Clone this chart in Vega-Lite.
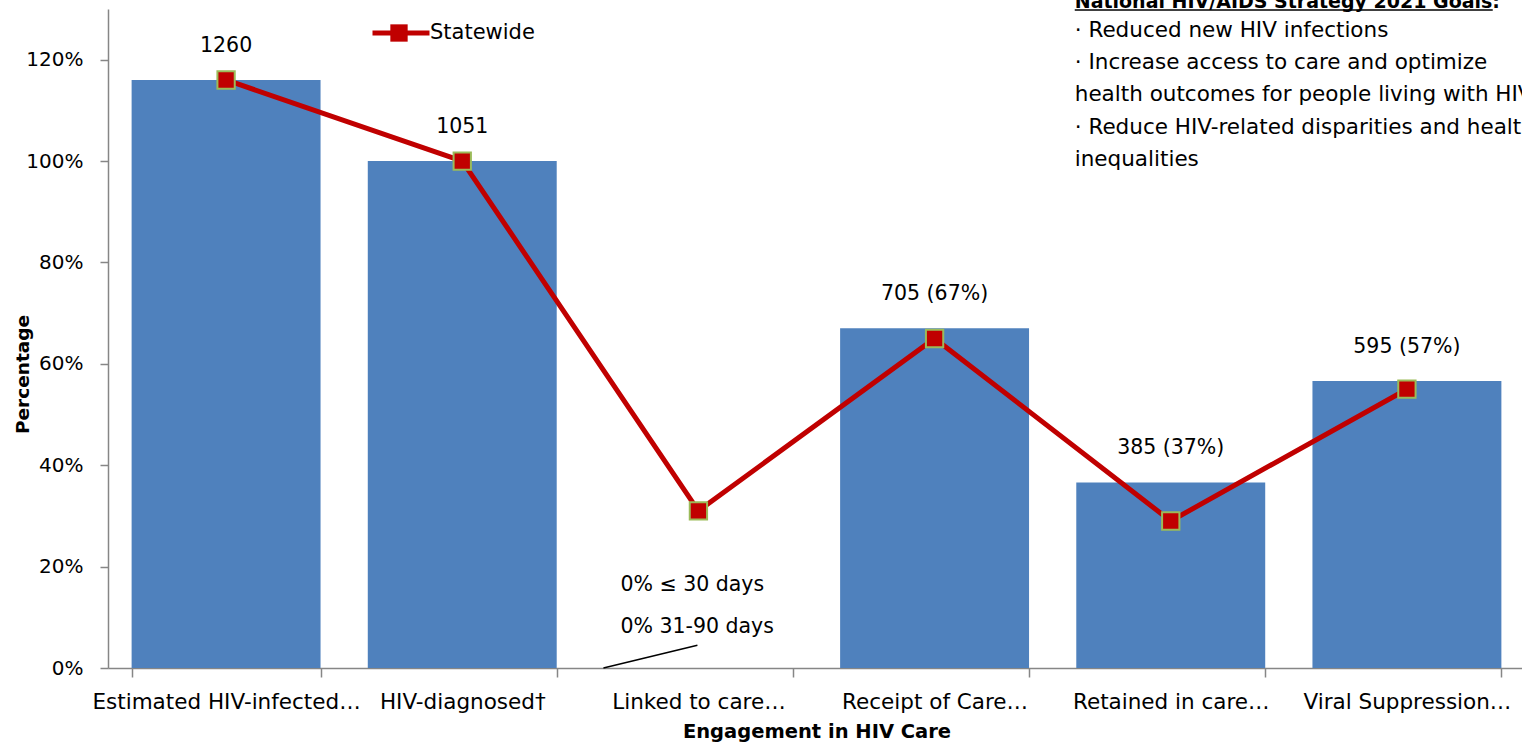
{
  "$schema": "https://vega.github.io/schema/vega-lite/v6.json",
  "width": 1417,
  "height": 659,
  "autosize": {"type": "none"},
  "padding": {"left": 108, "top": 9, "right": 0, "bottom": 75},
  "background": "white",
  "config": {
    "view": {"stroke": null},
    "font": "DejaVu Sans",
    "axis": {"labelFont": "DejaVu Sans", "titleFont": "DejaVu Sans", "labelColor": "black", "titleColor": "black", "domainColor": "#868686", "tickColor": "#868686", "domainWidth": 1.5, "tickWidth": 1.5},
    "legend": {"labelFont": "DejaVu Sans"}
  },
  "data": {
    "values": [
      {"stage": "Estimated HIV-infected…", "pct": 116, "statewide": 116, "label": "1260", "series": "Statewide"},
      {"stage": "HIV-diagnosed†", "pct": 100, "statewide": 100, "label": "1051", "series": "Statewide"},
      {"stage": "Linked to care…", "pct": 0, "statewide": 31, "label": "", "series": "Statewide"},
      {"stage": "Receipt of Care…", "pct": 67, "statewide": 65, "label": "705 (67%)", "series": "Statewide"},
      {"stage": "Retained in care…", "pct": 36.6, "statewide": 29, "label": "385 (37%)", "series": "Statewide"},
      {"stage": "Viral Suppression…", "pct": 56.6, "statewide": 55, "label": "595 (57%)", "series": "Statewide"}
    ]
  },
  "encoding": {
    "x": {
      "field": "stage", "type": "nominal", "sort": null,
      "scale": {"paddingInner": 0.2, "paddingOuter": 0.1},
      "axis": {"title": "Engagement in HIV Care", "titleFontSize": 19.5, "titleFontWeight": "bold", "titleBaseline": "middle", "titleY": 63, "labelAngle": 0, "labelFontSize": 21.5, "labelLimit": 0, "labelBaseline": "middle", "labelPadding": 25, "tickSize": 9, "tickBand": "extent", "labelOverlap": false}
    }
  },
  "layer": [
    {
      "mark": {"type": "bar", "color": "#4F81BD"},
      "encoding": {
        "y": {"field": "pct", "type": "quantitative", "scale": {"domain": [0, 130], "nice": false},
          "axis": {"values": [0, 20, 40, 60, 80, 100, 120], "labelExpr": "datum.value + '%'", "grid": false, "tickSize": 8, "labelPadding": 17, "labelFontSize": 20, "title": "Percentage", "titleFontSize": 18.5, "titleFontWeight": "bold", "titleX": -86, "titleY": 365, "titleAlign": "center", "titleBaseline": "middle"}}
      }
    },
    {
      "mark": {"type": "text", "fontSize": 20.5, "color": "black", "baseline": "middle", "dy": -34},
      "encoding": {
        "y": {"field": "pct", "type": "quantitative"},
        "text": {"field": "label"}
      }
    },
    {
      "mark": {"type": "line", "strokeWidth": 5},
      "encoding": {
        "y": {"field": "statewide", "type": "quantitative"},
        "stroke": {"field": "series", "type": "nominal", "scale": {"range": ["#C00000"]},
          "legend": {"title": null, "orient": "none", "legendX": 262, "legendY": -7, "padding": 0, "symbolType": "stroke", "symbolSize": 3249, "symbolStrokeWidth": 5, "labelFontSize": 21, "labelColor": "black", "labelOffset": -2}}
      }
    },
    {
      "mark": {"type": "point", "shape": "square", "filled": true, "color": "#C00000", "stroke": "#9BBB59", "strokeWidth": 2, "size": 300, "opacity": 1},
      "encoding": {
        "y": {"field": "statewide", "type": "quantitative"},
        "shape": {"datum": "Statewide", "scale": {"range": ["square"]},
          "legend": {"title": null, "orient": "none", "legendX": 281, "legendY": 14, "padding": 0, "symbolSize": 300, "symbolFillColor": "#C00000", "symbolStrokeColor": "#9BBB59", "symbolStrokeWidth": 2, "symbolOpacity": 1, "labelExpr": "''", "labelFontSize": 1}}
      }
    },
    {
      "data": {"values": [{}]},
      "mark": {"type": "text", "fontSize": 20.5, "color": "black", "align": "left", "baseline": "middle", "dx": -78, "text": "0% ≤ 30 days"},
      "encoding": {"x": {"datum": "Linked to care…"}, "y": {"datum": 16.4}}
    },
    {
      "data": {"values": [{}]},
      "mark": {"type": "text", "fontSize": 20.5, "color": "black", "align": "left", "baseline": "middle", "dx": -78, "text": "0% 31-90 days"},
      "encoding": {"x": {"datum": "Linked to care…"}, "y": {"datum": 8.1}}
    },
    {
      "data": {"values": [{}]},
      "mark": {"type": "rule", "color": "black", "strokeWidth": 1.5, "xOffset": -95, "x2Offset": -1},
      "encoding": {"x": {"datum": "Linked to care…"}, "x2": {"datum": "Linked to care…"}, "y": {"datum": 0}, "y2": {"datum": 4.5}}
    },
    {
      "data": {"values": [{}]},
      "mark": {"type": "text", "fontSize": 19, "fontWeight": "bold", "color": "black", "align": "left", "baseline": "alphabetic", "dx": -96, "dy": -1, "text": "National HIV/AIDS Strategy 2021 Goals:"},
      "encoding": {"x": {"datum": "Retained in care…"}, "y": {"datum": 130}}
    },
    {
      "data": {"values": [{}]},
      "mark": {"type": "rule", "color": "black", "strokeWidth": 1.5, "xOffset": -96, "x2Offset": 322},
      "encoding": {"x": {"datum": "Retained in care…"}, "x2": {"datum": "Retained in care…"}, "y": {"datum": 129.8}}
    },
    {
      "data": {"values": [{}]},
      "mark": {"type": "text", "fontSize": 21.5, "color": "black", "align": "left", "baseline": "middle", "dx": -96, "lineHeight": 32.3,
        "text": ["· Reduced new HIV infections", "· Increase access to care and optimize", "health outcomes for people living with HIV", "· Reduce HIV-related disparities and health", "inequalities"]},
      "encoding": {"x": {"datum": "Retained in care…"}, "y": {"datum": 125.7}}
    }
  ]
}
